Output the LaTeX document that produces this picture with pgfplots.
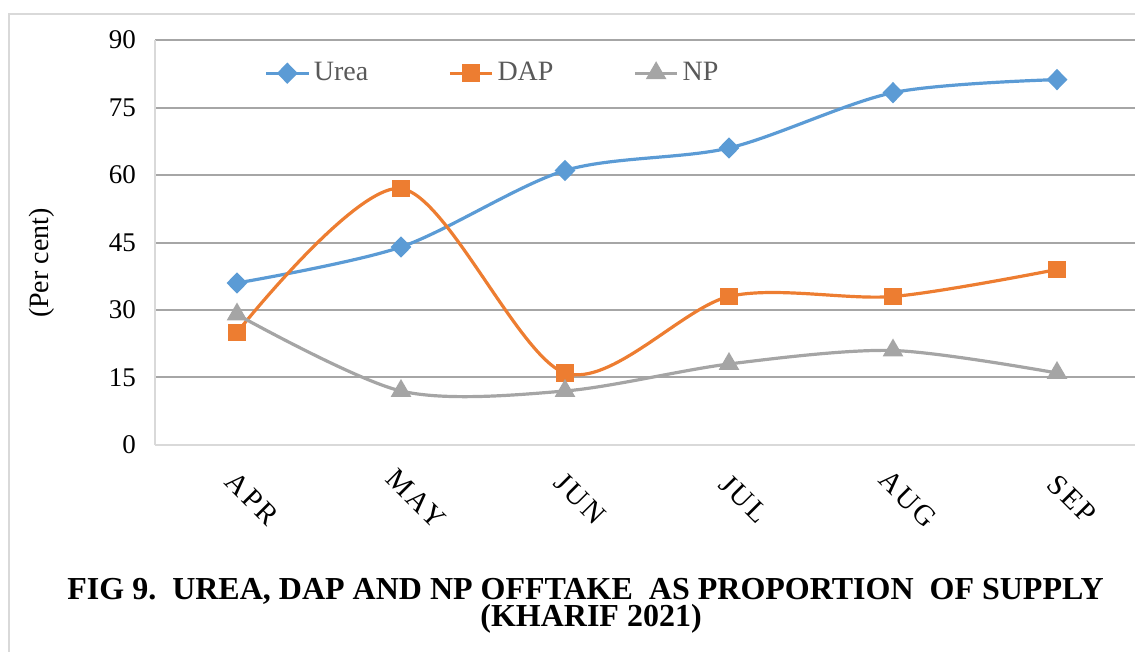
\documentclass[border=0pt]{standalone}
\usepackage{fontspec}
\setmainfont{Liberation Serif}
\usepackage{pgfplots}
\pgfplotsset{compat=1.18}
\definecolor{cUrea}{HTML}{5B9BD5}
\definecolor{cDAP}{HTML}{ED7D31}
\definecolor{cNP}{HTML}{A5A5A5}
\definecolor{gridc}{HTML}{A6A6A6}
\definecolor{axc}{HTML}{D9D9D9}
\definecolor{legtext}{HTML}{595959}
\begin{document}
\begin{tikzpicture}
\begin{axis}[
  at={(77.5pt,103.5pt)}, anchor=south west,
  width=492pt, height=202.5pt, scale only axis,
  xmin=-0.5, xmax=5.5, ymin=0, ymax=90,
  ytick={0,15,30,45,60,75,90},
  xtick={0,1,2,3,4,5},
  xticklabels={APR,MAY,JUN,JUL,AUG,SEP},
  ymajorgrids, grid style={gridc, line width=1pt},
  axis x line*=bottom, axis y line*=left,
  axis line style={axc, line width=1pt, -},
  major tick length=0pt,
  /pgf/number format/assume math mode=true,
  yticklabel style={anchor=east, xshift=-6pt, font=\fontsize{13.5}{15}\selectfont, text=black},
  xticklabel style={xshift=7.5pt, yshift=-27pt, rotate=-45, anchor=center, text=black,
    font=\fontsize{14.5}{16}\selectfont\addfontfeature{LetterSpace=9}},
  ylabel={(Per cent)},
  every axis y label/.style={at={(axis description cs:0,0.449)}, xshift=-56.5pt, rotate=90, anchor=center, font=\fontsize{14}{16}\selectfont},
  legend style={at={(axis description cs:0.105,0.918)}, anchor=west, draw=none, fill=none,
    font=\fontsize{14}{16}\selectfont, text=legtext,
    /tikz/every even column/.append style={column sep=38pt}},
  legend columns=3,
  legend image code/.code={\draw[#1, mark repeat=2, mark phase=2] plot coordinates {(0pt,0pt)(10.5pt,0pt)(21pt,0pt)};},
]
\addplot[cUrea, line width=1.6pt, smooth, tension=0.5, mark=diamond*, mark size=4.2pt, mark options={solid, xscale=1.3}]
  coordinates {(0,36)(1,44)(2,61)(3,66)(4,78.3)(5,81.2)};
\addlegendentry{Urea}
\addplot[cDAP, line width=1.6pt, smooth, tension=0.5, mark=square*, mark size=3.6pt, mark options={solid}]
  coordinates {(0,25)(1,57)(2,16)(3,33)(4,33)(5,39)};
\addlegendentry{DAP}
\addplot[cNP, line width=1.6pt, smooth, tension=0.5, mark=triangle*, mark size=4.4pt, mark options={solid}]
  coordinates {(0,29)(1,12)(2,12)(3,18)(4,21)(5,16)};
\addlegendentry{NP}
\end{axis}
\draw[axc, line width=1pt] (4.5pt,-10pt) rectangle (600pt,319pt);
\node[font=\bfseries\fontsize{16}{18}\selectfont] at (292.75pt,30.5pt) {FIG 9.\ \ UREA,\ DAP\ AND NP OFFTAKE\ \ AS PROPORTION\ \ OF SUPPLY};
\node[font=\bfseries\fontsize{16}{18}\selectfont] at (295.5pt,16.5pt) {(KHARIF 2021)};
\pgfresetboundingbox
\path (0pt,0pt) rectangle (567.5pt,326pt);
\end{tikzpicture}
\end{document}
